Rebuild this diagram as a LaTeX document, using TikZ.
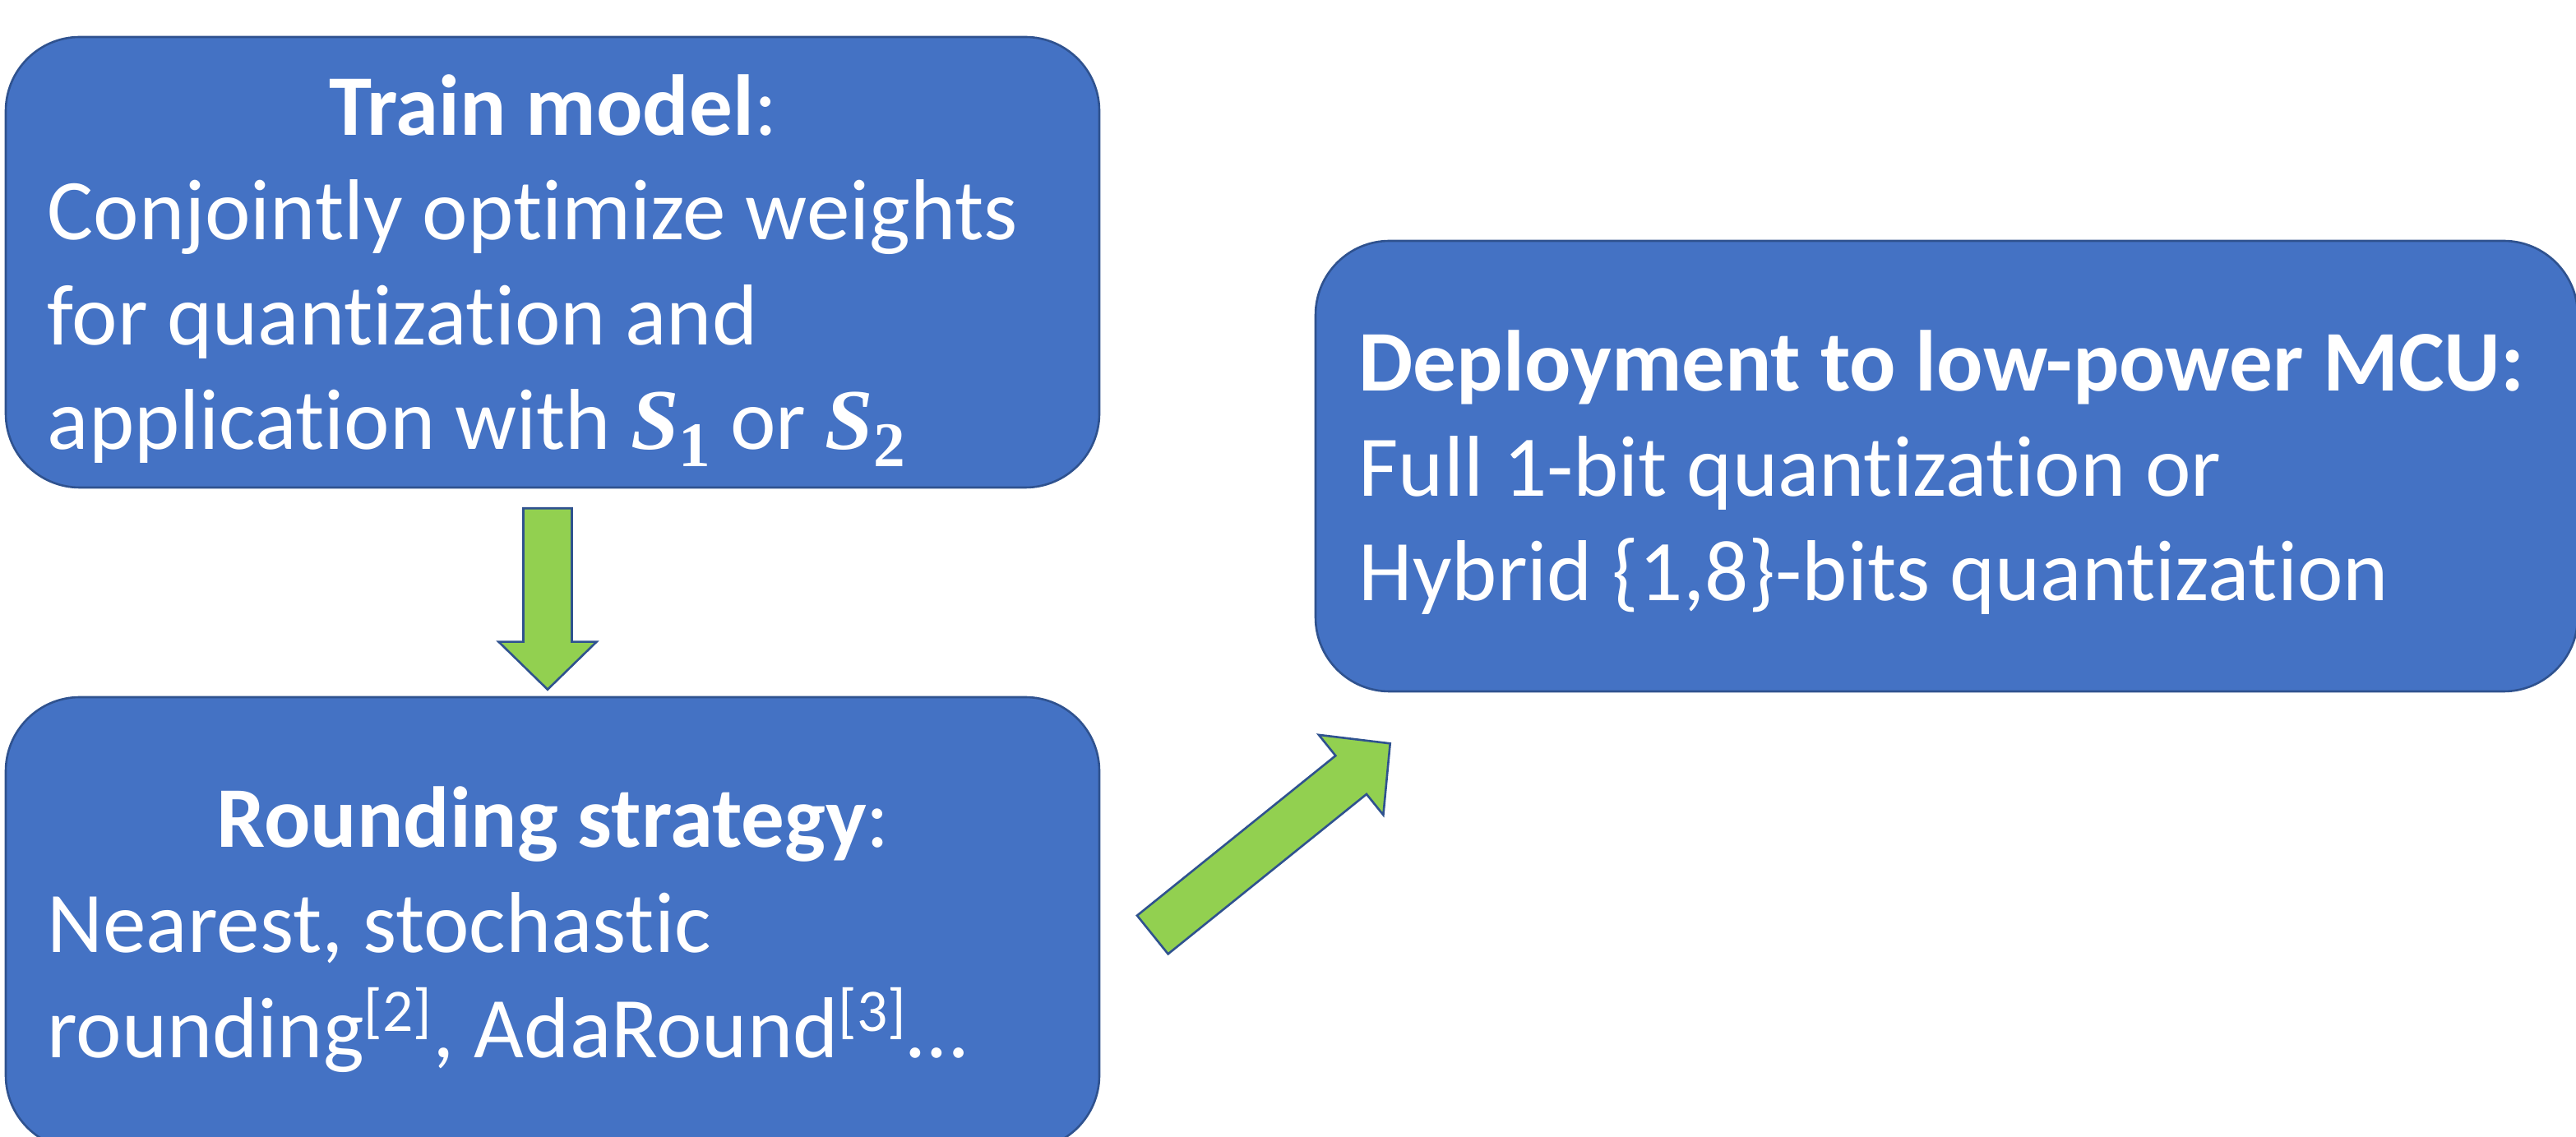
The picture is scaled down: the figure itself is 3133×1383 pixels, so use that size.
\documentclass[tikz,border=0pt]{standalone}
\usepackage{fontspec}
\setmainfont[Ligatures=NoCommon]{Carlito}
\newfontfamily\serifS{Liberation Serif}
\usetikzlibrary{calc}
\newlength\pxu \setlength\pxu{0.01cm}
\definecolor{boxblue}{HTML}{4472C4}
\definecolor{edgeblue}{HTML}{2F528F}
\definecolor{arrowgreen}{HTML}{92D050}
\newcommand\Ssub[1]{{\serifS\bfseries\itshape S}\raisebox{-21\pxu}{\fontsize{22}{22}\selectfont\serifS\bfseries #1}}
\newcommand\blockarr[6]{%
  \path ($(#2)!#5!(#1)$) coordinate (#6h);
  \draw[blockarrow] ($(#1)!#3!90:(#2)$) -- ($(#6h)!#3!-90:(#1)$) -- ($(#6h)!#4!-90:(#1)$) -- (#2)
    -- ($(#6h)!#4!90:(#1)$) -- ($(#6h)!#3!90:(#1)$) -- ($(#1)!#3!-90:(#2)$) -- cycle;}
\begin{document}
\begin{tikzpicture}[x=0.01cm,y=-0.01cm,
  stage/.style={draw=edgeblue, fill=boxblue, line width=2.6\pxu, rounded corners=0.9cm, inner sep=0pt},
  stagetext/.style={text=white, anchor=base west, align=left, inner sep=0pt, font=\fontsize{29.9}{36.3}\selectfont},
  blockarrow/.style={draw=edgeblue, fill=arrowgreen, line width=2.6\pxu}]
\useasboundingbox (0,0) rectangle (3133,1383);
\node[stage, minimum width=1330\pxu, minimum height=548\pxu] (train) at (672,319) {};
\node[stage, minimum width=1330\pxu, minimum height=550\pxu] (round) at (672,1123) {};
\node[stage, minimum width=1535\pxu, minimum height=548\pxu] (deploy) at (2367.5,567) {};
\node[stagetext] (traintxt) at (57,547) {\makebox[1230\pxu]{\textbf{Train model}:}\\Conjointly optimize weights\\for quantization and\\application with \Ssub{1} or \Ssub{2}};
\node[stagetext] (roundtxt) at (57,1286) {\makebox[1230\pxu]{\textbf{Rounding strategy}:}\\Nearest, stochastic\\rounding\textsuperscript{[2]}, AdaRound\textsuperscript{[3]}…};
\node[stagetext] (deploytxt) at (1652,731) {\textbf{Deployment to low-power MCU:}\\Full 1-bit quantization or\\Hybrid \{1,8\}-bits quantization};
\coordinate (a1s) at ($(train.south)+(-6,24)$);
\coordinate (a1e) at ($(round.north)+(-6,-8)$);
\coordinate (a2s) at ($(round.east)+(63.5,14)$);
\coordinate (a2e) at ($(deploy.south west)+(92,62)$);
\blockarr{a1s}{a1e}{0.295cm}{0.595cm}{0.58cm}{ar1}
\blockarr{a2s}{a2e}{0.30cm}{0.625cm}{0.61cm}{ar2}
\end{tikzpicture}
\end{document}
